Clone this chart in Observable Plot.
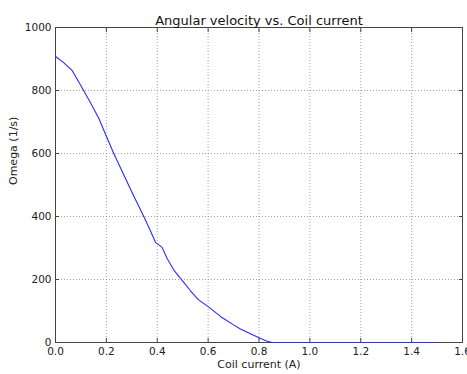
<!DOCTYPE html>
<html>
<head>
<meta charset="utf-8">
<script src="https://cdn.jsdelivr.net/npm/d3@7"></script>
<script src="https://cdn.jsdelivr.net/npm/@observablehq/plot@0.6"></script>
<style>
  html, body { margin: 0; padding: 0; background: #fff; }
  svg { display: block; }
</style>
</head>
<body>
<div id="chart"></div>
<script>
const current = [0.00, 0.03, 0.066, 0.10, 0.137, 0.17, 0.20, 0.229, 0.26, 0.30, 0.347, 0.37, 0.393, 0.419, 0.44, 0.465, 0.498, 0.53, 0.56, 0.60, 0.65, 0.70, 0.727, 0.76, 0.80, 0.83, 0.851, 0.90, 1.00, 1.10, 1.20, 1.30, 1.40, 1.50];
const omega   = [908, 890, 863, 815, 762, 712, 655, 600, 547, 478, 400, 360, 318, 302, 265, 230, 197, 165, 137, 114, 82, 56, 43, 30, 15, 5, 0, 0, 0, 0, 0, 0, 0, 0];
const xTicks = [0, 0.2, 0.4, 0.6, 0.8, 1.0, 1.2, 1.4, 1.6];
const yTicks = [0, 200, 400, 600, 800, 1000];
const title = "Angular velocity vs. Coil current";
const xLabel = "Coil current (A)";
const yLabel = "Omega (1/s)";

const data = current.map((c, i) => ({c, w: omega[i]}));

const chart = Plot.plot({
  width: 467,
  height: 374,
  marginLeft: 55,
  marginRight: 5,
  marginTop: 27,
  marginBottom: 32,
  style: {fontFamily: "DejaVu Sans", fontSize: "10px", color: "#222", background: "#fff"},
  x: {domain: [0, 1.6]},
  y: {domain: [0, 1000]},
  marks: [
    Plot.gridX(xTicks, {stroke: "#888", strokeOpacity: 0.8, strokeDasharray: "1,2"}),
    Plot.gridY(yTicks, {stroke: "#888", strokeOpacity: 0.8, strokeDasharray: "1,2"}),
    Plot.frame({stroke: "#444", strokeWidth: 1}),
    Plot.line(data, {x: "c", y: "w", stroke: "#2b2bff", strokeWidth: 1.1}),
    Plot.axisX(xTicks, {anchor: "bottom", tickSize: 0, tickPadding: 5, tickFormat: d3.format(".1f"), label: null, fontSize: 10.5}),
    Plot.axisX(xTicks, {anchor: "bottom", tickSize: 4, dy: -4, text: null, label: null, stroke: "#444"}),
    Plot.axisX(xTicks, {anchor: "top", tickSize: 4, dy: 4, text: null, label: null, stroke: "#444"}),
    Plot.axisY(yTicks, {anchor: "left", tickSize: 0, tickPadding: 4, tickFormat: d3.format("d"), label: null, fontSize: 10.5}),
    Plot.axisY(yTicks, {anchor: "left", tickSize: 4, dx: 4, text: null, label: null, stroke: "#444"}),
    Plot.axisY(yTicks, {anchor: "right", tickSize: 4, dx: -4, text: null, label: null, stroke: "#444"}),
    Plot.text([title], {frameAnchor: "top", dy: -12, fontSize: 13, fill: "#111"}),
    Plot.text([xLabel], {frameAnchor: "bottom", dy: 25, fontSize: 11, fill: "#222"}),
    Plot.text([yLabel], {frameAnchor: "left", dx: -42, rotate: -90, fontSize: 11, fill: "#222"})
  ]
});
document.getElementById("chart").appendChild(chart);
</script>
</body>
</html>
